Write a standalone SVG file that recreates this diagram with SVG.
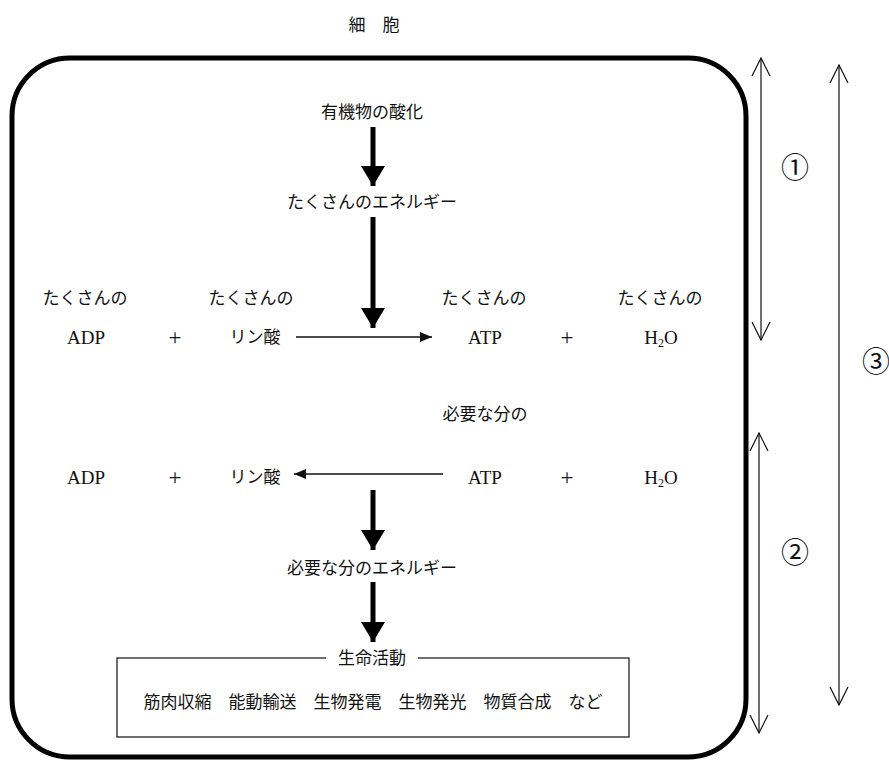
<svg xmlns="http://www.w3.org/2000/svg" width="889" height="762" viewBox="0 0 889 762">
<defs>
<style>
.jp{font-family:"Noto Sans CJK JP","Liberation Serif",serif;font-size:17px;fill:#111}
.lt{font-family:"Liberation Serif","Noto Sans CJK JP",serif;font-size:19px;fill:#111}
.pl{font-family:"Liberation Serif",serif;font-size:23px;fill:#111}
.num{font-family:"Noto Sans CJK JP",serif;font-size:28px;fill:#111}
.thin{stroke:#111;stroke-width:1.4;fill:none}
.thick{stroke:#000;stroke-width:5;fill:none}
.open{stroke:#111;stroke-width:1.2;fill:none}
</style>
<marker id="tri" viewBox="0 0 12 10" refX="12" refY="5" markerWidth="12" markerHeight="10" markerUnits="userSpaceOnUse" orient="auto">
<path d="M0,0 L12,5 L0,10 Z" fill="#111"/>
</marker>
<marker id="big" viewBox="0 0 20 24" refX="20" refY="12" markerWidth="20" markerHeight="24" markerUnits="userSpaceOnUse" orient="auto">
<path d="M0,0 L20,12 L0,24 Z" fill="#000"/>
</marker>
<marker id="vee" viewBox="0 0 20 20" refX="19" refY="10" markerWidth="20" markerHeight="20" markerUnits="userSpaceOnUse" orient="auto-start-reverse">
<path d="M1,1 L19,10 L1,19" fill="none" stroke="#111" stroke-width="1.2"/>
</marker>
</defs>
<rect width="889" height="762" fill="#fff"/>

<g id="title"><text class="jp" x="374" y="31" text-anchor="middle">細　胞</text></g>
<g id="cell"><rect x="12" y="58" width="734" height="699" rx="58" ry="58" fill="none" stroke="#000" stroke-width="5"/></g>

<g id="n-oxidation"><text class="jp" x="372" y="118" text-anchor="middle">有機物の酸化</text></g>
<g id="n-energy1"><text class="jp" x="372" y="208" text-anchor="middle">たくさんのエネルギー</text></g>

<g id="n-row1-labels">
<text class="jp" x="85" y="304" text-anchor="middle">たくさんの</text>
<text class="jp" x="251" y="304" text-anchor="middle">たくさんの</text>
<text class="jp" x="484" y="304" text-anchor="middle">たくさんの</text>
<text class="jp" x="660" y="304" text-anchor="middle">たくさんの</text>
</g>
<g id="n-row1">
<text class="lt" x="86" y="344" text-anchor="middle">ADP</text>
<text class="pl" x="175" y="345" text-anchor="middle">+</text>
<text class="jp" x="255" y="343" text-anchor="middle">リン酸</text>
<text class="lt" x="485" y="344" text-anchor="middle">ATP</text>
<text class="pl" x="567" y="345" text-anchor="middle">+</text>
<text class="lt" x="661" y="344" text-anchor="middle">H<tspan font-size="12" dy="3">2</tspan><tspan dy="-3">O</tspan></text>
</g>

<g id="n-need"><text class="jp" x="485" y="420" text-anchor="middle">必要な分の</text></g>
<g id="n-row2">
<text class="lt" x="86" y="484" text-anchor="middle">ADP</text>
<text class="pl" x="175" y="485" text-anchor="middle">+</text>
<text class="jp" x="255" y="483" text-anchor="middle">リン酸</text>
<text class="lt" x="485" y="484" text-anchor="middle">ATP</text>
<text class="pl" x="567" y="485" text-anchor="middle">+</text>
<text class="lt" x="661" y="484" text-anchor="middle">H<tspan font-size="12" dy="3">2</tspan><tspan dy="-3">O</tspan></text>
</g>

<g id="n-energy2"><text class="jp" x="372" y="574" text-anchor="middle">必要な分のエネルギー</text></g>

<g id="n-life">
<rect x="117" y="658" width="512" height="79" fill="none" stroke="#222" stroke-width="1.3"/>
<rect x="326" y="648" width="92" height="20" fill="#fff"/>
<text class="jp" x="372" y="664" text-anchor="middle">生命活動</text>
<text class="jp" x="373" y="708" text-anchor="middle" font-size="19.6">筋肉収縮　能動輸送　生物発電　生物発光　物質合成　など</text>
</g>

<g id="n-labels">
<text class="num" x="795" y="178" text-anchor="middle">①</text>
<text class="num" x="795" y="563" text-anchor="middle">②</text>
<text class="num" x="876" y="372" text-anchor="middle">③</text>
</g>

<g id="connectors">
<line class="thick" x1="373" y1="127" x2="373" y2="186" marker-end="url(#big)"/>
<line class="thick" x1="373" y1="217" x2="373" y2="328" marker-end="url(#big)"/>
<line class="thick" x1="373" y1="490" x2="373" y2="550" marker-end="url(#big)"/>
<line class="thick" x1="373" y1="582" x2="373" y2="642" marker-end="url(#big)"/>
<line class="thin" x1="296" y1="337" x2="432" y2="337" marker-end="url(#tri)"/>
<line class="thin" x1="443" y1="474" x2="294" y2="474" marker-end="url(#tri)"/>
<line class="open" x1="761" y1="58" x2="761" y2="340" marker-start="url(#vee)" marker-end="url(#vee)"/>
<line class="open" x1="759" y1="433" x2="759" y2="733" marker-start="url(#vee)" marker-end="url(#vee)"/>
<line class="open" x1="839" y1="65" x2="839" y2="705" marker-start="url(#vee)" marker-end="url(#vee)"/>
</g>
</svg>
